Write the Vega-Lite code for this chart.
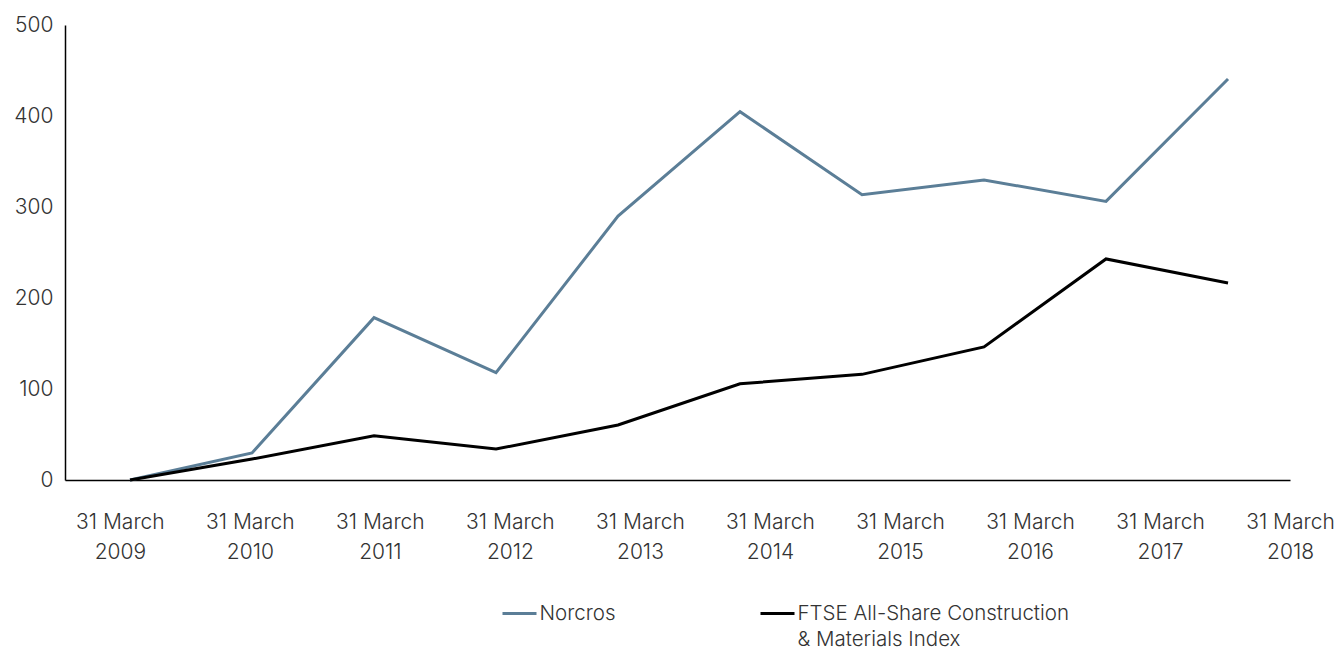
{
  "$schema": "https://vega.github.io/schema/vega-lite/v6.json",
  "width": 1225,
  "height": 455,
  "autosize": {"type": "none"},
  "padding": {"left": 65, "top": 25, "right": 49, "bottom": 169},
  "background": "white",
  "config": {
    "view": {"stroke": null},
    "font": "Inter",
    "style": {"guide-label": {"lineHeight": 26}},
    "axis": {"labelFont": "Inter", "labelFontWeight": 300, "labelFontSize": 21, "labelColor": "#333333", "grid": false, "ticks": false, "domainColor": "#000000", "domainWidth": 1.5},
    "legend": {"labelFont": "Inter", "labelFontWeight": 300, "labelFontSize": 20.5, "labelColor": "#333333"}
  },
  "data": {
    "values": [
      {"year": 2009, "series": "Norcros", "value": 0},
      {"year": 2010, "series": "Norcros", "value": 29.7},
      {"year": 2011, "series": "Norcros", "value": 178.4},
      {"year": 2012, "series": "Norcros", "value": 117.9},
      {"year": 2013, "series": "Norcros", "value": 290},
      {"year": 2014, "series": "Norcros", "value": 404.7},
      {"year": 2015, "series": "Norcros", "value": 313.5},
      {"year": 2016, "series": "Norcros", "value": 329.7},
      {"year": 2017, "series": "Norcros", "value": 306.2},
      {"year": 2018, "series": "Norcros", "value": 440.7},
      {"year": 2009, "series": "FTSE All-Share Construction & Materials Index", "value": 0},
      {"year": 2010, "series": "FTSE All-Share Construction & Materials Index", "value": 23},
      {"year": 2011, "series": "FTSE All-Share Construction & Materials Index", "value": 48.7},
      {"year": 2012, "series": "FTSE All-Share Construction & Materials Index", "value": 34},
      {"year": 2013, "series": "FTSE All-Share Construction & Materials Index", "value": 60.4},
      {"year": 2014, "series": "FTSE All-Share Construction & Materials Index", "value": 105.8},
      {"year": 2015, "series": "FTSE All-Share Construction & Materials Index", "value": 116.1},
      {"year": 2016, "series": "FTSE All-Share Construction & Materials Index", "value": 146.2},
      {"year": 2017, "series": "FTSE All-Share Construction & Materials Index", "value": 242.9},
      {"year": 2018, "series": "FTSE All-Share Construction & Materials Index", "value": 216.5}
    ]
  },
  "layer": [
    {
      "mark": {"type": "line", "strokeWidth": 3},
      "encoding": {
        "x": {"field": "year", "type": "quantitative", "scale": {"domain": [2008.467, 2018.508], "nice": false, "zero": false}, "axis": null},
        "y": {"field": "value", "type": "quantitative", "scale": {"domain": [0, 500], "nice": false}, "axis": {"title": null, "values": [0, 100, 200, 300, 400, 500], "labelPadding": 12, "domain": true}},
        "color": {
          "field": "series", "type": "nominal",
          "scale": {"domain": ["Norcros", "FTSE All-Share Construction & Materials Index"], "range": ["#5b7e97", "#000000"]},
          "legend": {
            "title": null, "orient": "none", "direction": "horizontal",
            "legendX": 436, "legendY": 570,
            "symbolType": "stroke", "symbolSize": 1156, "symbolStrokeWidth": 3,
            "columnPadding": 138, "labelOffset": 1.5, "labelBaseline": "middle",
            "labelLimit": 400,
            "labelExpr": "datum.label == 'Norcros' ? ['Norcros', ''] : ['FTSE All-Share Construction', '& Materials Index']",
            "encoding": {
              "labels": {
                "update": {
                  "align": {"signal": "datum.label == 'Norcros' ? 'left' : 'center'"},
                  "dx": {"signal": "datum.label == 'Norcros' ? 0 : 136"}
                }
              }
            }
          }
        }
      }
    },
    {
      "mark": {"type": "point", "opacity": 0},
      "encoding": {
        "x": {"field": "year", "type": "quantitative", "scale": {"domain": [2008.578, 2018.0], "nice": false, "zero": false},
          "axis": {"orient": "bottom", "title": null, "values": [2009, 2010, 2011, 2012, 2013, 2014, 2015, 2016, 2017, 2018], "format": "d", "labelExpr": "['31 March', datum.label]", "labelPadding": 31, "labelLineHeight": 30, "labelBaseline": "top", "labelFlush": false, "labelOverlap": false}}
      }
    }
  ],
  "resolve": {"scale": {"x": "independent"}, "axis": {"x": "independent"}}
}
